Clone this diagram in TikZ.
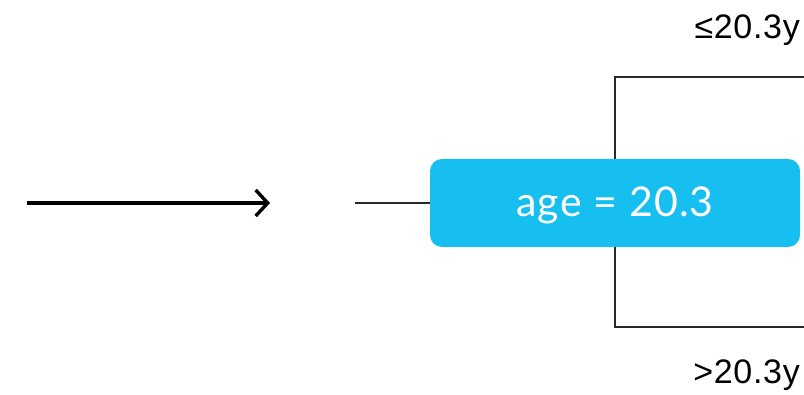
\documentclass[tikz,border=0pt]{standalone}
\usepackage{fontspec}
\setmainfont{Liberation Sans}
\newfontfamily\boxfont[LetterSpace=3]{Lato}
\newfontfamily\labelfont[LetterSpace=2]{Liberation Sans}
\usetikzlibrary{arrows.meta}
\definecolor{boxblue}{RGB}{22,191,240}
\definecolor{linegray}{RGB}{40,40,40}
\begin{document}
\begin{tikzpicture}[x=1pt,y=1pt,
  splitbox/.style={fill=boxblue, rounded corners=12pt, minimum width=370pt, minimum height=88pt, inner sep=0pt, text height=29pt, text depth=1pt, text=white, font=\boxfont\fontsize{41}{44}\selectfont},
  thin line/.style={draw=linegray, line width=1.2pt},
  label text/.style={anchor=base east, inner sep=0pt, font=\labelfont\fontsize{34}{38}\selectfont}]
\useasboundingbox (0,0) rectangle (804,395);
% bracket
\coordinate (tr) at (804,318);
\coordinate (tl) at (615,318);
\coordinate (bl) at (615,68);
\coordinate (br) at (804,68);
\draw[thin line] (tr) -- (tl) -- (bl) -- (br);
% box
\node[splitbox] (split) at (615,192) {age = 20.3};
% input line
\coordinate (in) at (355,192);
\draw[thin line] (in) -- (split.west);
% arrow
\coordinate (a0) at (27,192);
\coordinate (a1) at (270,192);
\draw[line width=3.4pt, -{Straight Barb[length=12pt,width=26pt,line width=3.4pt]}] (a0) -- (a1);
% labels
\node[label text] (le) at (800,356) {≤20.3y};
\node[label text] (gt) at (800,11) {>20.3y};
\end{tikzpicture}
\end{document}
